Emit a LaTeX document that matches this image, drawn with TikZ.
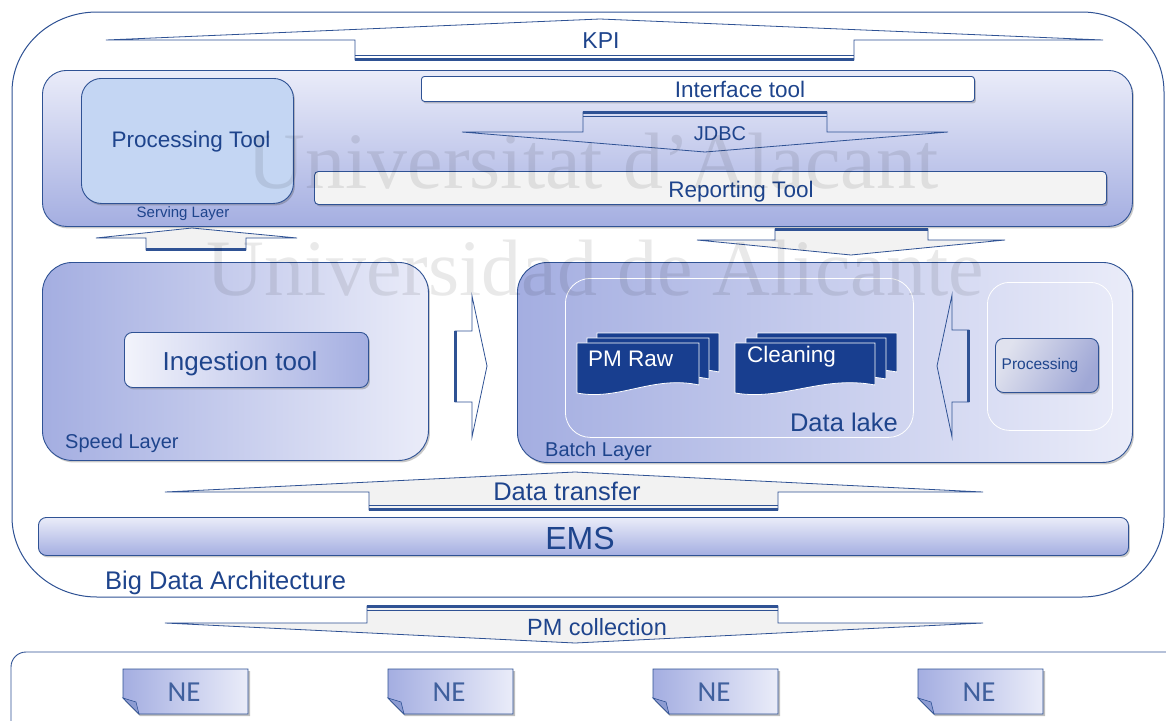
\documentclass[tikz,border=0pt]{standalone}
\usepackage{fontspec}
\setmainfont{Liberation Sans}
\newfontfamily\nefont{Carlito}
\newfontfamily\wmfont{Liberation Serif}
\usetikzlibrary{shadows}

\definecolor{lineblue}{RGB}{47,82,148}
\definecolor{txtblue}{RGB}{30,68,140}
\definecolor{gradlight}{RGB}{234,236,249}
\definecolor{graddark}{RGB}{164,174,225}
\definecolor{proctool}{RGB}{196,214,243}
\definecolor{arrowgrey}{RGB}{242,242,242}
\definecolor{docblue}{RGB}{24,62,143}
\definecolor{reportgrey}{RGB}{243,243,243}

\newcommand\fsz[1]{\fontsize{#1}{#1}\selectfont}

% stacked document with a wavy lower edge: x, y, width, height
\newcommand\wavedoc[4]{%
  \filldraw[fill=docblue, draw=white, line width=0.8pt]
    (#1,#2) -- ({#1+#3},#2) -- ({#1+#3},{#2+#4-8})
    .. controls ({#1+0.62*#3},{#2+#4-18}) and ({#1+0.35*#3},{#2+#4+8}) .. (#1,{#2+#4}) -- cycle;}

% note sheet with a folded lower-left corner
\newcommand\nesheet[3]{% name, x, y
  \fill[black, opacity=0.25] ({#2+2},{#3+2}) -- ({#2+127},{#3+2}) -- ({#2+127},{#3+47}) -- ({#2+17},{#3+47}) -- ({#2+2},{#3+32}) -- cycle;
  \shade[left color=graddark, right color=gradlight, draw=lineblue, line width=0.9pt]
    (#2,#3) -- ({#2+125},#3) -- ({#2+125},{#3+45}) -- ({#2+16},{#3+45}) -- (#2,{#3+29}) -- cycle;
  \filldraw[fill=graddark!80!lineblue, draw=lineblue, line width=0.6pt]
    (#2,{#3+29}) -- ({#2+13},{#3+33}) -- ({#2+16},{#3+45}) -- cycle;
  \node[text=txtblue!85, inner sep=0pt, font=\nefont\fsz{29}] (#1) at ({#2+61},{#3+23}) {NE};}

\begin{document}
\begin{tikzpicture}[x=1pt,y=-1pt,
  box/.style={draw=lineblue, line width=0.9pt, inner sep=0pt, anchor=north west},
  shad/.style={drop shadow={shadow xshift=1.5pt, shadow yshift=-2pt, opacity=0.3, fill=black!70}},
  lbl/.style={text=txtblue, inner sep=0pt, font=\fsz{22.5}},
  small/.style={text=txtblue, inner sep=0pt, font=\fsz{20}},
  doclbl/.style={text=white, inner sep=0pt, anchor=west, font=\fsz{22.5}},
  wmark/.style={font=\wmfont\fsz{80}, text=black, opacity=0.085, anchor=base, inner sep=0pt},
  thick edge/.style={draw=lineblue, line width=2.2pt},
  thin edge/.style={draw=lineblue, line width=0.8pt},
  blockarrow/.style={draw=lineblue, line width=0.8pt, line join=miter}]

\fill[white] (0,0) rectangle (1166,720);
\useasboundingbox (0,0) rectangle (1166,720);
\clip (0,0) rectangle (1166,720);

% outer frame of the architecture
\draw[lineblue, line width=1pt]
  (97,12) -- (1082,12) arc[start angle=-90, end angle=0, x radius=82, y radius=80]
  -- (1164,517) arc[start angle=0, end angle=90, x radius=82, y radius=80]
  -- (97,597) arc[start angle=90, end angle=180, x radius=85, y radius=80]
  -- (12,92) arc[start angle=180, end angle=270, x radius=85, y radius=80];

% network element area
\draw[lineblue, line width=0.9pt, rounded corners=15] (11,760) -- (11,652) -- (1190,652);

% KPI arrow
\filldraw[blockarrow, fill=white] (106,40) -- (600,19) -- (1103,40) -- (854,40) -- (854,60) -- (355,60) -- (355,40) -- cycle;
\draw[thick edge] (355,59.5) -- (854,59.5);
\draw[thin edge] (355,55.5) -- (854,55.5);
\node[lbl, font=\fsz{23}] (kpi) at (601,41) {KPI};

% serving layer
\node[box, shad, rounded corners=24, top color=gradlight, bottom color=graddark,
      minimum width=1090pt, minimum height=156pt] (serving) at (42,70) {};
\node[box, shad, rounded corners=20, fill=proctool,
      minimum width=212pt, minimum height=125pt] (ptool) at (81,78) {};
\node[lbl] (ptoollbl) at (191,142) {Processing Tool};
\node[text=txtblue, inner sep=0pt, font=\fsz{15}] (servlbl) at (183,214) {Serving Layer};
\node[box, shad, rounded corners=3, fill=white,
      minimum width=553pt, minimum height=25pt] (iface) at (421,76) {};
\node[lbl] (ifacelbl) at (740,89) {Interface tool};
\node[box, shad, rounded corners=4, fill=reportgrey,
      minimum width=792pt, minimum height=33pt] (report) at (314,171) {};
\node[lbl] (reportlbl) at (741,191.5) {Reporting Tool};

% JDBC arrow
\draw[blockarrow] (583,112) -- (827,112) -- (827,132) -- (948,132) -- (705,152) -- (462,132) -- (583,132) -- cycle;
\draw[thick edge] (583,112.5) -- (827,112.5);
\draw[thin edge] (583,116.5) -- (827,116.5);
\node[text=txtblue, inner sep=0pt, font=\fsz{20}] (jdbc) at (720,134) {JDBC};

% arrow from speed layer to serving layer
\filldraw[blockarrow, fill=arrowgrey] (192,228) -- (297,238) -- (246,238) -- (246,250) -- (146,250) -- (146,238) -- (96,238) -- cycle;
\draw[thick edge] (146,249.5) -- (246,249.5);

% arrow from serving layer to batch layer
\filldraw[blockarrow, fill=arrowgrey] (775,229) -- (928,229) -- (928,240) -- (1005,240) -- (851,255) -- (697,240) -- (775,240) -- cycle;
\draw[thick edge] (775,229.5) -- (928,229.5);

% speed layer
\node[box, shad, rounded corners=30, left color=graddark, right color=gradlight,
      minimum width=386pt, minimum height=198pt] (speed) at (42,262) {};
\node[box, shad, rounded corners=8, left color=gradlight!60!white, right color=graddark,
      minimum width=244pt, minimum height=55pt] (ingest) at (124,332) {};
\node[lbl, font=\fsz{26}] (ingestlbl) at (240,364) {Ingestion tool};
\node[small, anchor=west] (speedlbl) at (65,443) {Speed Layer};

% arrow from speed layer to batch layer
\draw[blockarrow] (455,331) -- (472,331) -- (472,296) -- (487,366) -- (472,437) -- (472,402) -- (455,402) -- cycle;
\draw[thick edge] (455.5,331) -- (455.5,402);

% batch layer
\node[box, shad, rounded corners=30, left color=graddark, right color=gradlight,
      minimum width=615pt, minimum height=200pt] (batch) at (517,262) {};
\node[box, draw=white, line width=0.8pt, rounded corners=25,
      minimum width=348pt, minimum height=159pt] (lake) at (565,278) {};
\node[box, draw=white, line width=0.8pt, rounded corners=22,
      minimum width=125pt, minimum height=148pt] (pcont) at (987,282) {};
\node[box, shad, rounded corners=8, left color={rgb,255:red,224;green,226;blue,238},
      right color={rgb,255:red,160;green,168;blue,214}, shading angle=60,
      minimum width=103pt, minimum height=54pt] (proc) at (995,338) {};
\node[text=txtblue, inner sep=0pt, font=\fsz{15.5}] (proclbl) at (1040,365) {Processing};

% stacked documents in the data lake
\wavedoc{597}{333}{122}{47}
\wavedoc{587}{338}{122}{49}
\wavedoc{577}{343}{122}{50}
\node[doclbl] (pmraw) at (588,359) {PM Raw};
\wavedoc{757}{333}{140}{47}
\wavedoc{746}{338}{140}{49}
\wavedoc{735}{343}{140}{50}
\node[doclbl] (clean) at (747,357) {Cleaning};

\node[lbl, anchor=east, font=\fsz{25.5}] (lakelbl) at (898,422) {Data lake};
\node[small, anchor=west] (batchlbl) at (545,451) {Batch Layer};

% arrow from processing into the data lake
\draw[blockarrow] (969,330) -- (952,330) -- (952,295) -- (937,366) -- (952,437) -- (952,402) -- (969,402) -- cycle;
\draw[thick edge] (968.5,330) -- (968.5,402);

% data transfer arrow
\filldraw[blockarrow, fill=arrowgrey] (165,492) -- (575,472) -- (983,492) -- (778,492) -- (778,510) -- (369,510) -- (369,492) -- cycle;
\draw[thick edge] (369,509.5) -- (778,509.5);
\draw[thin edge] (369,505.5) -- (778,505.5);
\node[lbl, font=\fsz{25.5}] (dt) at (567,491) {Data transfer};

% EMS bar
\node[box, shad, rounded corners=8, top color=gradlight, bottom color=graddark,
      minimum width=1090pt, minimum height=38pt] (ems) at (38,517) {};
\node[lbl, font=\fsz{32}] (emslbl) at (580,538) {EMS};

\node[lbl, anchor=west, font=\fsz{25.5}] (bda) at (105,583) {Big Data Architecture};

% PM collection arrow
\filldraw[blockarrow, fill=arrowgrey] (367,606) -- (778,606) -- (778,623) -- (983,623) -- (575,643) -- (165,623) -- (367,623) -- cycle;
\draw[thick edge] (367,606.5) -- (778,606.5);
\draw[thin edge] (367,610.5) -- (778,610.5);
\node[lbl, font=\fsz{23.5}] (pmc) at (597,627) {PM collection};

% network elements
\nesheet{ne1}{123}{669}
\nesheet{ne2}{388}{669}
\nesheet{ne3}{653}{669}
\nesheet{ne4}{918}{669}

% institutional watermark
\node[wmark] (wm1) at (593,188) {Universitat d’Alacant};
\node[wmark] (wm2) at (595,295) {Universidad de Alicante};
\end{tikzpicture}
\end{document}
